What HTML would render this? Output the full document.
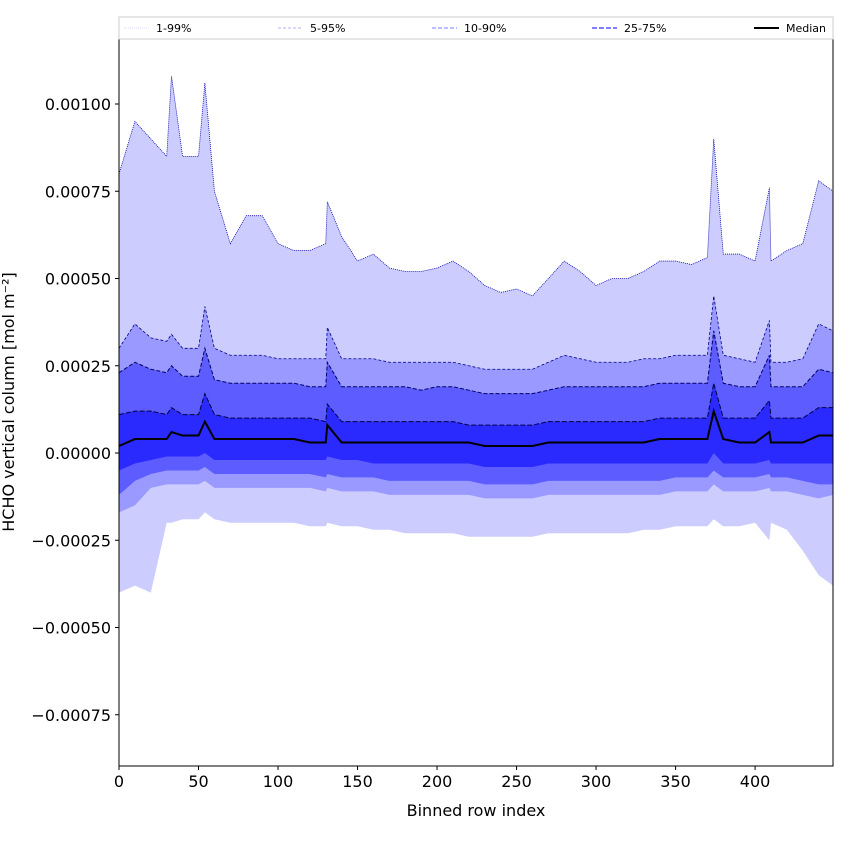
<!DOCTYPE html>
<html><head><meta charset="utf-8"><style>
body{margin:0;background:#fff;font-family:"DejaVu Sans","Liberation Sans",sans-serif}
</style></head><body>
<svg id="chart" width="850" height="850" xmlns="http://www.w3.org/2000/svg" font-family="DejaVu Sans, Liberation Sans, sans-serif"></svg>
<script>
const rows=[0,10,20,30,33,40,50,54,60,70,80,90,100,110,120,130,131,140,150,160,170,180,190,200,210,220,230,240,250,260,270,280,290,300,310,320,330,340,350,360,370,374,380,390,400,409,410,420,430,440,449];
const p99=[80,95,90,85,108,85,85,106,75,60,68,68,60,58,58,60,72,62,55,57,53,52,52,53,55,52,48,46,47,45,50,55,52,48,50,50,52,55,55,54,56,90,57,57,55,76,55,58,60,78,75];
const p95=[30,37,33,32,34,30,30,42,30,28,28,28,27,27,27,27,36,27,27,27,26,26,26,26,26,25,24,24,24,24,26,28,27,26,26,26,27,27,28,28,28,45,28,27,26,38,26,26,27,37,35];
const p90=[23,26,24,23,25,22,22,30,21,20,20,20,20,20,19,19,26,19,19,19,19,19,18,19,19,18,17,17,17,17,18,19,19,19,19,19,19,20,20,20,20,35,20,19,19,28,19,19,19,24,23];
const p75=[11,12,12,11,13,11,11,17,11,10,10,10,10,10,10,9,14,9,9,9,9,9,9,9,9,8,8,8,8,8,9,9,9,9,9,9,9,10,10,10,10,20,10,10,10,15,10,10,10,13,13];
const med=[2,4,4,4,6,5,5,9,4,4,4,4,4,4,3,3,8,3,3,3,3,3,3,3,3,3,2,2,2,2,3,3,3,3,3,3,3,4,4,4,4,12,4,3,3,6,3,3,3,5,5];
const p25=[-5,-3,-2,-1,-1,-1,-1,0,-2,-2,-2,-2,-2,-2,-2,-2,-1,-2,-2,-3,-3,-3,-3,-3,-3,-3,-4,-4,-4,-4,-3,-3,-3,-3,-3,-3,-3,-3,-3,-3,-3,0,-3,-3,-3,-2,-3,-3,-3,-3,-3];
const p10=[-12,-8,-6,-5,-5,-5,-5,-4,-6,-6,-6,-6,-6,-6,-6,-7,-6,-7,-7,-7,-8,-8,-8,-8,-8,-8,-9,-9,-9,-9,-8,-8,-8,-8,-8,-8,-8,-8,-7,-7,-7,-5,-7,-7,-7,-6,-7,-7,-8,-9,-9];
const p5=[-17,-15,-10,-9,-9,-9,-9,-8,-10,-10,-10,-10,-10,-10,-10,-11,-10,-11,-11,-11,-12,-12,-12,-12,-12,-12,-13,-13,-13,-13,-12,-12,-12,-12,-12,-12,-12,-12,-11,-11,-11,-9,-11,-11,-11,-10,-11,-11,-12,-13,-12];
const p1=[-40,-38,-40,-20,-20,-19,-19,-17,-19,-20,-20,-20,-20,-20,-21,-21,-20,-21,-21,-22,-22,-23,-23,-23,-23,-24,-24,-24,-24,-24,-23,-23,-23,-23,-23,-23,-22,-22,-21,-21,-21,-19,-21,-21,-20,-25,-20,-22,-28,-35,-38];
const xTicks=[0,50,100,150,200,250,300,350,400];
const yTicks=[0.001,0.00075,0.0005,0.00025,0,-0.00025,-0.0005,-0.00075];
const yTickLabels=["0.00100","0.00075","0.00050","0.00025","0.00000","\u22120.00025","\u22120.00050","\u22120.00075"];

const L=119,R=833,T=39,B=766;
const X=v=>L+(v-0)*(R-L)/449;
const Y=v=>453-v*349000;
const Yv=v=>Y(v*1e-5);
const svg=document.getElementById('chart');
const NS='http://www.w3.org/2000/svg';
function mk(tag,attrs,parent){const e=document.createElementNS(NS,tag);for(const k in attrs)e.setAttribute(k,attrs[k]);(parent||svg).appendChild(e);return e;}
const clip=mk('clipPath',{id:'pc'});mk('rect',{x:L,y:T,width:R-L,height:B-T},clip);
const g=mk('g',{'clip-path':'url(#pc)'});
function band(lo,hi,fill,name){
  let d='M'+rows.map((r,i)=>X(r)+','+Yv(hi[i])).join('L');
  for(let i=rows.length-1;i>=0;i--)d+='L'+X(rows[i])+','+Yv(lo[i]);
  const p=mk('path',{d:d+'Z',fill:fill,stroke:'none'},g);
  
  
}
function line(vals,stroke,w,dash,name){
  const p=mk('polyline',{points:rows.map((r,i)=>X(r)+','+Yv(vals[i])).join(' '),fill:'none',stroke:stroke,'stroke-width':w,'stroke-dasharray':dash},g);
  
  
}
band(p1,p99,'#ccccff','band-1-99');
band(p5,p95,'#9999ff','band-5-95');
band(p10,p90,'#5c5cff','band-10-90');
band(p25,p75,'#2a2aff','band-25-75');
line(p99,'#0000aa',0.8,'1,1','line-p99');
line(p95,'#000088',0.8,'3,2','line-p95');
line(p90,'#000066',1,'4,2','line-p90');
line(p75,'#000044',1,'5,2','line-p75');
line(med,'#000',2,'none','line-median');

mk('rect',{x:L,y:T,width:R-L,height:B-T,fill:'none',stroke:'#000','stroke-width':1});
xTicks.forEach(t=>{
  mk('line',{x1:X(t),x2:X(t),y1:B,y2:B+4,stroke:'#000'});
  const tx=mk('text',{x:X(t),y:B+21,'text-anchor':'middle','font-size':16},svg);tx.textContent=t;
  
  
});
yTicks.forEach((t,i)=>{
  mk('line',{x1:L-4,x2:L,y1:Y(t),y2:Y(t),stroke:'#000'});
  const tx=mk('text',{x:L-8,y:Y(t)+6,'text-anchor':'end','font-size':16},svg);tx.textContent=yTickLabels[i];
  
  
});
const xt=mk('text',{x:476,y:816,'text-anchor':'middle','font-size':16});xt.textContent='Binned row index';


const yt=mk('text',{x:14,y:402,'text-anchor':'middle','font-size':16,transform:'rotate(-90 14 402)'});yt.textContent='HCHO vertical column [mol m\u207B\u00B2]';



const lg=mk('g',{});


mk('rect',{x:119,y:17,width:714,height:22,fill:'#fff',stroke:'#ccc'},lg);
const items=[['1-99%',124,'#ccccff',0.8,'1,1'],['5-95%',278,'#9999ff',0.8,'3,2'],['10-90%',432,'#7777ff',1,'4,2'],['25-75%',592,'#5555ff',1.5,'5,2'],['Median',754,'#000',2,'none']];
items.forEach(it=>{
  const e=mk('g',{},lg);
  
  
  mk('line',{x1:it[1],x2:it[1]+25,y1:28,y2:28,stroke:it[2],'stroke-width':it[3],'stroke-dasharray':it[4]},e);
  const t=mk('text',{x:it[1]+32,y:32,'font-size':11},e);t.textContent=it[0];
});
</script>
</body></html>
